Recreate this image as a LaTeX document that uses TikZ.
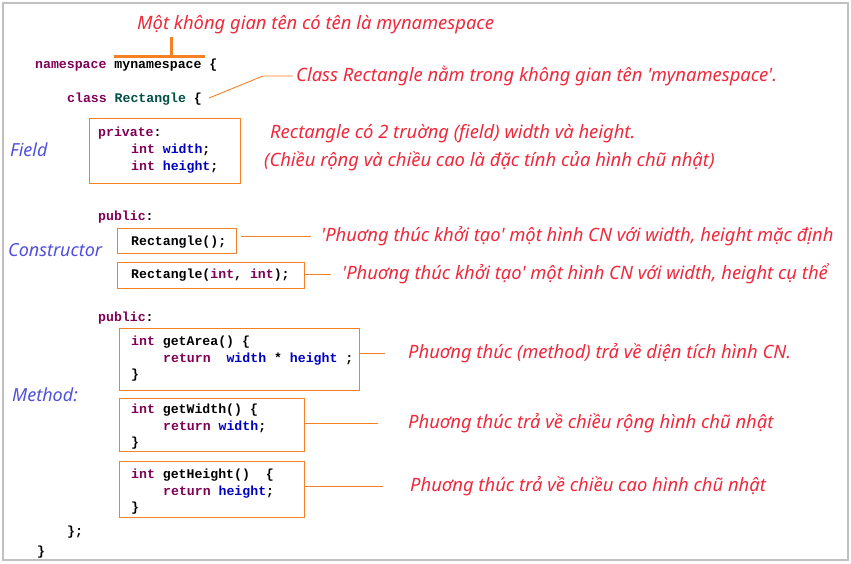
\documentclass[tikz,border=0pt]{standalone}
\usepackage{fontspec}
\setmainfont{Noto Sans}
\setmonofont{Liberation Mono}
\newfontfamily\handfont{Noto Sans}
\definecolor{orng}{RGB}{245,128,37}
\definecolor{annred}{RGB}{240,40,60}
\definecolor{lblblue}{RGB}{80,80,220}
\definecolor{kwc}{RGB}{127,0,85}
\definecolor{clsc}{RGB}{0,80,70}
\definecolor{fldc}{RGB}{0,0,192}
\definecolor{frame}{RGB}{192,192,192}
\newcommand\kwd[1]{\textcolor{kwc}{#1}}
\newcommand\clsn[1]{\textcolor{clsc}{#1}}
\newcommand\fldn[1]{\textcolor{fldc}{#1}}
\tikzset{
  code/.style={anchor=base west, inner sep=0pt, font=\fontsize{13.2}{16}\selectfont\ttfamily\bfseries},
  note/.style={anchor=west, inner sep=3pt, text=annred, font=\fontsize{18.4}{21}\selectfont\handfont\itshape},
  lbl/.style={anchor=west, inner sep=2pt, text=lblblue, font=\fontsize{18}{21}\selectfont\handfont\itshape},
  codebox/.style={draw=orng, line width=1pt, anchor=north west, inner sep=0pt},
  conn/.style={draw=orng, line width=0.9pt},
  brk/.style={draw=orng, line width=3pt}
}
\begin{document}
\begin{tikzpicture}[x=1pt,y=-1pt]
\useasboundingbox (0,0) rectangle (851,564);
\draw[frame, line width=1.5pt] (3,3) rectangle (848,560);

% top annotation and bracket
\node[note] (tNs) at (134,25) {Một không gian tên có tên là mynamespace};
\coordinate (bT) at (171,37);
\coordinate (bM) at (171,57);
\coordinate (bL) at (114,57);
\coordinate (bR) at (205,57);
\draw[brk] (bT) -- (bM);
\draw[brk] (bL) -- (bR);

% namespace / class
\node[code] (l1) at (35,69) {\kwd{namespace} mynamespace \{};
\node[code] (l2) at (67,103) {\kwd{class} \clsn{Rectangle} \{};
\node[note] (tClass) at (293,76) {Class Rectangle nằm trong không gian tên 'mynamespace'.};
\coordinate (cBend) at (263,76);
\draw[conn] ([xshift=7pt,yshift=5pt]l2.base east) -- (cBend) -- (tClass.west);

% field
\node[codebox, minimum width=151, minimum height=65] (bField) at (89,118) {};
\node[code] (f1) at (98,137) {\kwd{private}:};
\node[code] (f2) at (131,154) {\kwd{int} \fldn{width};};
\node[code] (f3) at (131,171) {\kwd{int} \fldn{height};};
\node[lbl] (lField) at (8,150) {Field};
\node[note] (tF1) at (267,134) {Rectangle có 2 truờng (field) width và height.};
\node[note] (tF2) at (261,161) {(Chiều rộng và chiều cao là đặc tính của hình chũ nhật)};

% constructors
\node[code] (p1) at (98,220) {\kwd{public}:};
\node[codebox, minimum width=119, minimum height=25] (bC1) at (117,228) {};
\node[code] (c1) at (131,245) {Rectangle();};
\node[note] (tC1) at (318,236) {'Phuơng thúc khởi tạo' một hình CN với width, height mặc định};
\draw[conn] ([xshift=4pt]bC1.east |- tC1.west) -- ([xshift=-7pt]tC1.west);
\node[codebox, minimum width=187, minimum height=26] (bC2) at (117,262) {};
\node[code] (c2) at (131,278) {Rectangle(\kwd{int}, \kwd{int});};
\node[note] (tC2) at (339,274) {'Phuơng thúc khởi tạo' một hình CN với width, height cụ thể};
\draw[conn] (bC2.east |- tC2.west) -- ([xshift=-8pt]tC2.west);
\node[lbl] (lCons) at (6,250) {Constructor};

% methods
\node[code] (p2) at (98,321) {\kwd{public}:};
\node[codebox, minimum width=240, minimum height=62] (bM1) at (119,328) {};
\node[code] (m1a) at (131,345) {\kwd{int} getArea() \{};
\node[code] (m1b) at (163,362) {\kwd{return}~~\fldn{width} * \fldn{height} ;};
\node[code] (m1c) at (131,378) {\}};
\node[note] (tM1) at (405,353) {Phuơng thúc (method) trả về diện tích hình CN.};
\draw[conn] (bM1.east |- tM1.west) -- ([xshift=-20pt]tM1.west);

\node[lbl] (lMeth) at (10,395) {Method:};

\node[codebox, minimum width=185, minimum height=53] (bM2) at (119,398) {};
\node[code] (m2a) at (131,413) {\kwd{int} getWidth() \{};
\node[code] (m2b) at (163,430) {\kwd{return} \fldn{width};};
\node[code] (m2c) at (131,446) {\}};
\node[note] (tM2) at (405,423) {Phuơng thúc trả về chiều rộng hình chũ nhật};
\draw[conn] (bM2.east |- tM2.west) -- ([xshift=-27pt]tM2.west);

\node[codebox, minimum width=185, minimum height=56] (bM3) at (119,461) {};
\node[code] (m3a) at (131,478) {\kwd{int} getHeight()~~\{};
\node[code] (m3b) at (163,495) {\kwd{return} \fldn{height};};
\node[code] (m3c) at (131,511) {\}};
\node[note] (tM3) at (407,486) {Phuơng thúc trả về chiều cao hình chũ nhật};
\draw[conn] (bM3.east |- tM3.west) -- ([xshift=-24pt]tM3.west);

\node[code] (e1) at (67,535) {\};};
\node[code] (e2) at (37,555) {\}};
\end{tikzpicture}
\end{document}
